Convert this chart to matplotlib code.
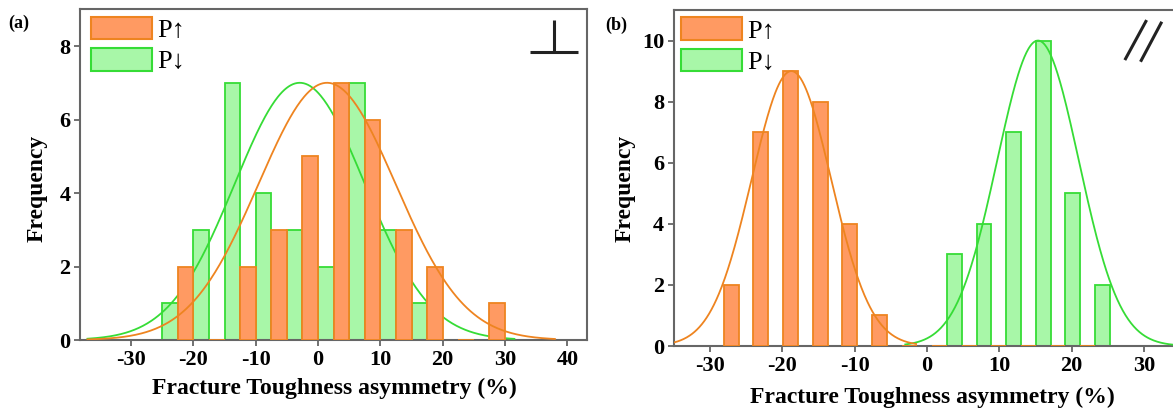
import numpy as np
import matplotlib
matplotlib.use("Agg")
import matplotlib.pyplot as plt
from matplotlib.patches import Patch

plt.rcParams['font.family'] = ['Liberation Serif', 'DejaVu Serif']
plt.rcParams['axes.unicode_minus'] = False

# ---------------- data ----------------
# (a) perpendicular: 5 %-wide bins, P-down in the left half, P-up in the right half
a_bin_left = [-25, -20, -15, -10, -5, 0, 5, 10, 15, 20, 25]
a_up_counts = [2, 0, 2, 3, 5, 7, 6, 3, 2, 0, 1]
a_down_counts = [1, 3, 7, 4, 3, 2, 7, 3, 1, 0, 0]
# fitted normal curves: (mean, sd, peak, x-start, x-end)
a_up_fit = (1.44, 11.0, 7.0, -37.0, 38.0)
a_down_fit = (-2.94, 10.45, 7.0, -37.0, 31.5)

# (b) parallel: 4.11 %-wide bins, P-up in the left half, P-down in the right half
b_bin_left = [-28.1, -24.0, -19.9, -15.8, -11.7, -7.6, -3.5,
              0.7, 4.8, 8.9, 13.0, 17.1, 21.2]
b_up_counts = [2, 7, 9, 8, 4, 1, 0, 0, 0, 0, 0, 0, 0]
b_down_counts = [0, 0, 0, 0, 0, 0, 0, 3, 4, 7, 10, 5, 2]
b_up_fit = (-18.75, 5.5, 9.0, -35.0, -1.5)
b_down_fit = (15.36, 5.65, 10.0, -3.0, 35.0)

a_xticks = [-30, -20, -10, 0, 10, 20, 30, 40]
a_yticks = [0, 2, 4, 6, 8]
b_xticks = [-30, -20, -10, 0, 10, 20, 30]
b_yticks = [0, 2, 4, 6, 8, 10]

labels = ["P\u2191", "P\u2193"]
xlabel = "Fracture Toughness asymmetry (%)"
ylabel = "Frequency"

# ---------------- style ----------------
UP_FACE, UP_EDGE = "#FF9A62", "#EE8420"
DN_FACE, DN_EDGE = "#A8F7A8", "#36DC36"
SPINE = "#666666"


def gauss(fit, n=400):
    mu, sd, peak, x0, x1 = fit
    x = np.linspace(x0, x1, n)
    return x, peak * np.exp(-(x - mu) ** 2 / (2 * sd ** 2))


def style_axes(ax, xticks, yticks):
    for s in ax.spines.values():
        s.set_color(SPINE)
        s.set_linewidth(1.5)
    ax.set_xticks(xticks)
    ax.set_yticks(yticks)
    ax.tick_params(direction="out", length=4, width=1.3, color=SPINE,
                   labelsize=16, pad=3)
    for t in ax.get_xticklabels() + ax.get_yticklabels():
        t.set_fontweight("bold")
    ax.set_xlabel(xlabel, fontsize=17, fontweight="bold")
    ax.set_ylabel(ylabel, fontsize=17, fontweight="bold")


def add_legend(ax, anchor):
    handles = [Patch(facecolor=UP_FACE, edgecolor=UP_EDGE, linewidth=1.5),
               Patch(facecolor=DN_FACE, edgecolor=DN_EDGE, linewidth=1.5)]
    leg = ax.legend(handles, labels, loc="upper left", bbox_to_anchor=anchor,
                    frameon=False, fontsize=19, handlelength=2.3,
                    handleheight=0.95, handletextpad=0.2, labelspacing=0.22,
                    borderpad=0, borderaxespad=0)
    return leg


fig = plt.figure(figsize=(11.73, 4.08), dpi=100)

# ---------------- panel (a) ----------------
ax1 = fig.add_axes([80 / 1173, 68 / 408, 507.3 / 1173, 330.7 / 408])
half_a = 2.5
ax1.bar(a_bin_left, a_down_counts, width=half_a, align="edge",
        facecolor=DN_FACE, edgecolor=DN_EDGE, linewidth=1.3, zorder=2)
x, y = gauss(a_down_fit)
ax1.plot(x, y, color=DN_EDGE, linewidth=1.3, zorder=3)
ax1.bar(np.array(a_bin_left) + half_a, a_up_counts, width=half_a, align="edge",
        facecolor=UP_FACE, edgecolor=UP_EDGE, linewidth=1.3, zorder=4)
x, y = gauss(a_up_fit)
ax1.plot(x, y, color=UP_EDGE, linewidth=1.3, zorder=5)
ax1.set_xlim(-38.2, 43.2)
ax1.set_ylim(0, 9)
style_axes(ax1, a_xticks, a_yticks)
ax1.xaxis.set_label_coords(0.502, -0.115)
ax1.yaxis.set_label_coords(-0.063, 0.457)
add_legend(ax1, (0.022, 0.978))
# perpendicular symbol
ax1.plot([0.935, 0.935], [0.872, 0.968], transform=ax1.transAxes,
         color="#222222", linewidth=2.2, solid_capstyle="butt")
ax1.plot([0.888, 0.982], [0.872, 0.872], transform=ax1.transAxes,
         color="#222222", linewidth=2.2, solid_capstyle="butt")
fig.text(8 / 1173, 1 - 23 / 408, "(a)", fontsize=13, fontweight="bold",
         va="center", ha="left")

# ---------------- panel (b) ----------------
ax2 = fig.add_axes([673.9 / 1173, 62 / 408, 506.1 / 1173, 336 / 408])
half_b = 2.055
ax2.bar(np.array(b_bin_left) + half_b, b_down_counts, width=half_b,
        align="edge", facecolor=DN_FACE, edgecolor=DN_EDGE, linewidth=1.3,
        zorder=2)
x, y = gauss(b_down_fit)
ax2.plot(x, y, color=DN_EDGE, linewidth=1.3, zorder=3)
ax2.bar(b_bin_left, b_up_counts, width=half_b, align="edge",
        facecolor=UP_FACE, edgecolor=UP_EDGE, linewidth=1.3, zorder=4)
x, y = gauss(b_up_fit)
ax2.plot(x, y, color=UP_EDGE, linewidth=1.3, zorder=5)
ax2.set_xlim(-35, 35)
ax2.set_ylim(0, 11)
style_axes(ax2, b_xticks, b_yticks)
ax2.xaxis.set_label_coords(0.511, -0.12)
ax2.yaxis.set_label_coords(-0.075, 0.47)
add_legend(ax2, (0.015, 0.978))
# parallel symbol
ax2.plot([0.891, 0.934], [0.851, 0.970], transform=ax2.transAxes,
         color="#222222", linewidth=2.2, solid_capstyle="butt")
ax2.plot([0.922, 0.964], [0.846, 0.965], transform=ax2.transAxes,
         color="#222222", linewidth=2.2, solid_capstyle="butt")
fig.text(605 / 1173, 1 - 25 / 408, "(b)", fontsize=13, fontweight="bold",
         va="center", ha="left")

fig.savefig("out.png", dpi=100)
